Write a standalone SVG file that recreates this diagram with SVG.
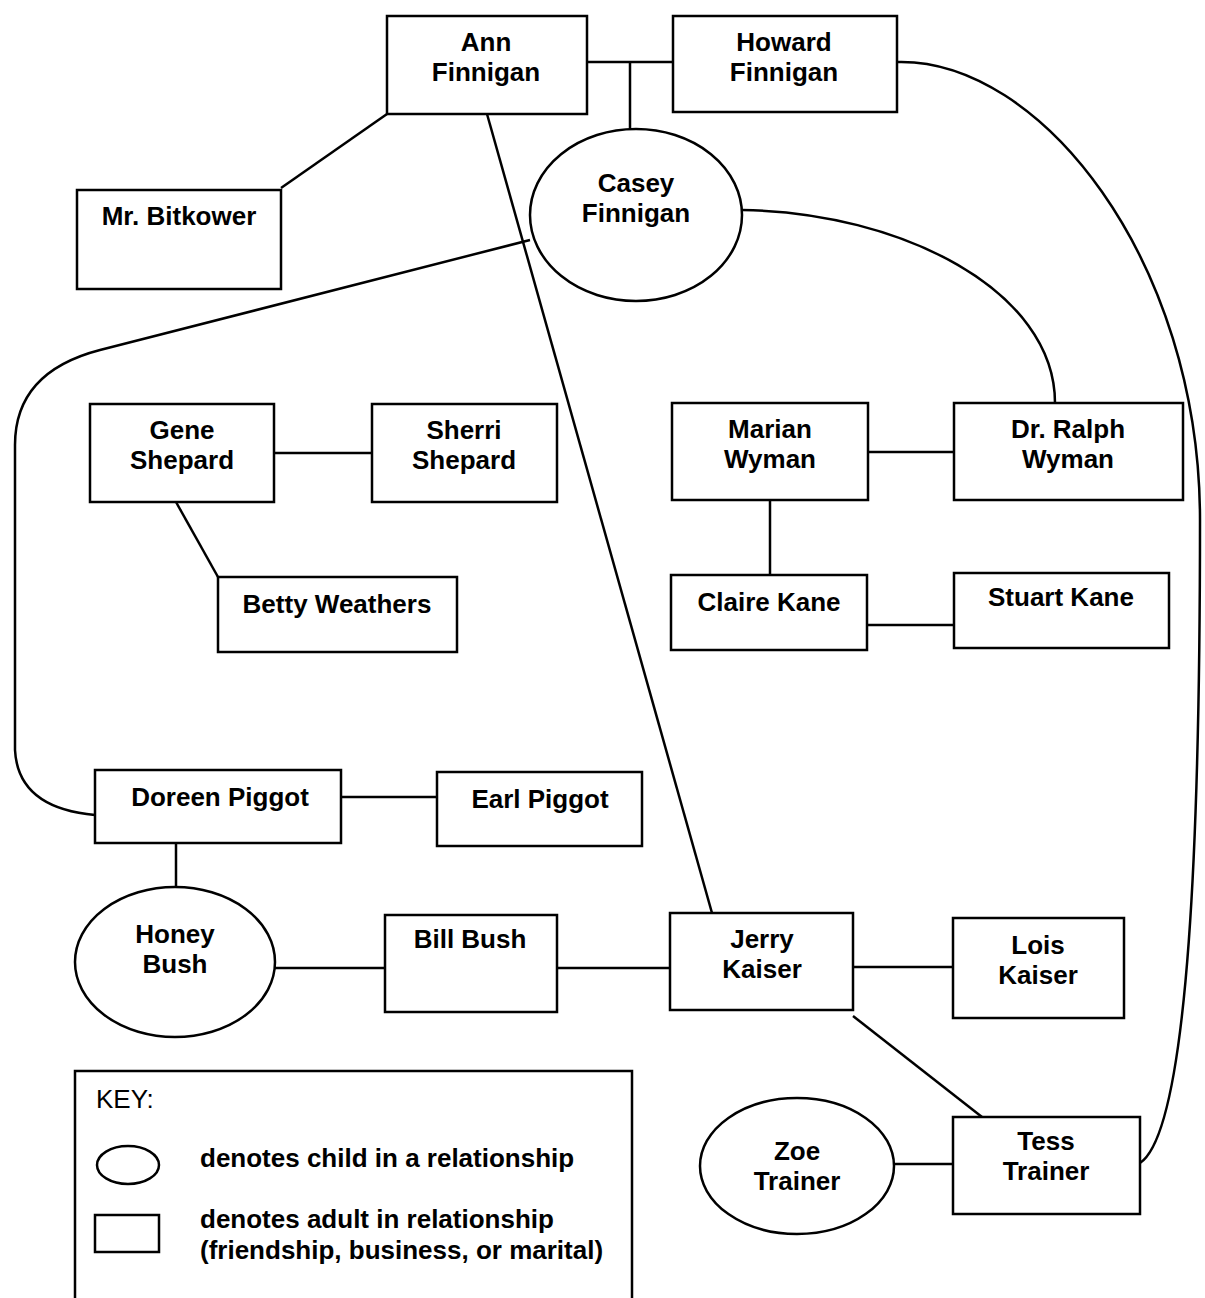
<svg xmlns="http://www.w3.org/2000/svg" width="1205" height="1298" viewBox="0 0 1205 1298">
<style>
.n{fill:#fff;stroke:#000;stroke-width:2.5}
.c{fill:none;stroke:#000;stroke-width:2.5}
text{font-family:"Liberation Sans",Arial,sans-serif;font-weight:bold;font-size:26px;fill:#000}
.m{text-anchor:middle}
</style>
<rect width="1205" height="1298" fill="#fff"/>
<g id="connectors">
<path class="c" d="M587,62 H673 M630,62 V132"/>
<path class="c" d="M387,114 L281,188"/>
<path class="c" d="M487,114 L712,913"/>
<path class="c" d="M530,240 L100,350 Q15,372 15,445 L15,750 Q18,808 95,815"/>
<path class="c" d="M742,210 C900,212 1055,290 1055,403"/>
<path class="c" d="M897,62 C1040,58 1200,260 1200,520 C1200,820 1190,1130 1140,1163"/>
<path class="c" d="M274,453 H372"/>
<path class="c" d="M176,502 L218,577"/>
<path class="c" d="M868,452 H954"/>
<path class="c" d="M770,500 V575"/>
<path class="c" d="M867,625 H954"/>
<path class="c" d="M341,797 H437"/>
<path class="c" d="M176,843 V887"/>
<path class="c" d="M275,968 H385"/>
<path class="c" d="M557,968 H670"/>
<path class="c" d="M853,967 H953"/>
<path class="c" d="M853,1016 L982,1117"/>
<path class="c" d="M894,1164 H953"/>
</g>
<g id="ann"><rect class="n" x="387" y="16" width="200" height="98"/><text class="m" x="486" y="51">Ann</text><text class="m" x="486" y="81">Finnigan</text></g>
<g id="howard"><rect class="n" x="673" y="16" width="224" height="96"/><text class="m" x="784" y="51">Howard</text><text class="m" x="784" y="81">Finnigan</text></g>
<g id="casey"><ellipse class="n" cx="636" cy="215" rx="106" ry="86"/><text class="m" x="636" y="192">Casey</text><text class="m" x="636" y="222">Finnigan</text></g>
<g id="bitkower"><rect class="n" x="77" y="190" width="204" height="99"/><text class="m" x="179" y="225">Mr. Bitkower</text></g>
<g id="gene"><rect class="n" x="90" y="404" width="184" height="98"/><text class="m" x="182" y="439">Gene</text><text class="m" x="182" y="469">Shepard</text></g>
<g id="sherri"><rect class="n" x="372" y="404" width="185" height="98"/><text class="m" x="464" y="439">Sherri</text><text class="m" x="464" y="469">Shepard</text></g>
<g id="betty"><rect class="n" x="218" y="577" width="239" height="75"/><text class="m" x="337" y="613">Betty Weathers</text></g>
<g id="marian"><rect class="n" x="672" y="403" width="196" height="97"/><text class="m" x="770" y="438">Marian</text><text class="m" x="770" y="468">Wyman</text></g>
<g id="ralph"><rect class="n" x="954" y="403" width="229" height="97"/><text class="m" x="1068" y="438">Dr. Ralph</text><text class="m" x="1068" y="468">Wyman</text></g>
<g id="claire"><rect class="n" x="671" y="575" width="196" height="75"/><text class="m" x="769" y="611">Claire Kane</text></g>
<g id="stuart"><rect class="n" x="954" y="573" width="215" height="75"/><text class="m" x="1061" y="606">Stuart Kane</text></g>
<g id="doreen"><rect class="n" x="95" y="770" width="246" height="73"/><text class="m" x="220" y="806">Doreen Piggot</text></g>
<g id="earl"><rect class="n" x="437" y="772" width="205" height="74"/><text class="m" x="540" y="808">Earl Piggot</text></g>
<g id="honey"><ellipse class="n" cx="175" cy="962" rx="100" ry="75"/><text class="m" x="175" y="943">Honey</text><text class="m" x="175" y="973">Bush</text></g>
<g id="bill"><rect class="n" x="385" y="915" width="172" height="97"/><text class="m" x="470" y="948">Bill Bush</text></g>
<g id="jerry"><rect class="n" x="670" y="913" width="183" height="97"/><text class="m" x="762" y="948">Jerry</text><text class="m" x="762" y="978">Kaiser</text></g>
<g id="lois"><rect class="n" x="953" y="918" width="171" height="100"/><text class="m" x="1038" y="954">Lois</text><text class="m" x="1038" y="984">Kaiser</text></g>
<g id="tess"><rect class="n" x="953" y="1117" width="187" height="97"/><text class="m" x="1046" y="1150">Tess</text><text class="m" x="1046" y="1180">Trainer</text></g>
<g id="zoe"><ellipse class="n" cx="797" cy="1166" rx="97" ry="68"/><text class="m" x="797" y="1160">Zoe</text><text class="m" x="797" y="1190">Trainer</text></g>
<g id="key">
<path class="c" d="M75,1298 V1071 H632 V1298"/>
<text x="96" y="1108" style="font-weight:normal">KEY:</text>
<ellipse class="n" cx="128" cy="1165" rx="31" ry="19"/>
<text x="200" y="1167">denotes child in a relationship</text>
<rect class="n" x="95" y="1215" width="64" height="37"/>
<text x="200" y="1228">denotes adult in relationship</text>
<text x="200" y="1259">(friendship, business, or marital)</text>
</g>
</svg>
